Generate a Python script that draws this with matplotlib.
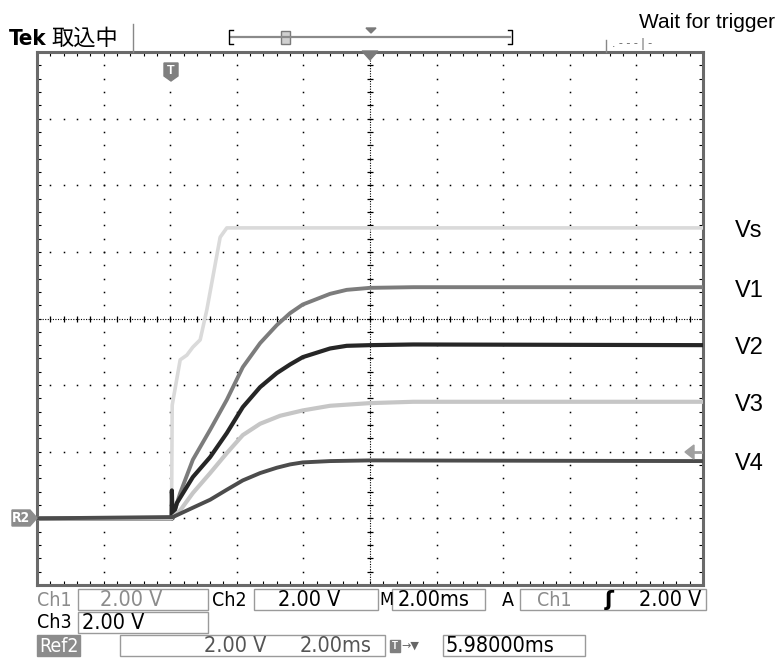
import numpy as np
import matplotlib.pyplot as plt
from matplotlib.patches import Rectangle, Polygon

plt.rcParams['font.family'] = ['Liberation Sans', 'DejaVu Sans']
NARROW = ['DejaVu Sans']
CJK = ['Noto Sans CJK JP', 'DejaVu Sans']

# screen: 10 div x 2.00 ms, 8 div x 2.00 V; ground (R2) sits 3 div below centre
GROUND = -6.0

# traces: time in ms from left edge, voltage in V above ground
t_vs = [0.0, 4.04, 4.06, 4.3, 4.5, 4.68, 4.9, 5.1, 5.28, 5.5, 5.7, 20.0]
v_vs = [0.0, 0.0, 3.4, 4.76, 4.9, 5.14, 5.36, 6.26, 7.24, 8.44, 8.72, 8.72]

t_v1 = [0.0, 4.06, 4.3, 4.68, 5.2, 5.7, 6.18, 6.7, 7.2, 7.6, 7.98, 8.8, 9.3, 10.0, 11.3, 20.0]
v_v1 = [0.0, 0.0, 0.76, 1.76, 2.66, 3.56, 4.54, 5.26, 5.8, 6.16, 6.42, 6.74, 6.86, 6.92, 6.94, 6.94]

t_v2 = [0.0, 4.04, 4.05, 4.07, 4.2, 4.68, 5.2, 5.7, 6.18, 6.7, 7.2, 7.6, 7.98, 8.8, 9.3, 10.0, 11.3, 20.0]
v_v2 = [0.0, 0.0, 0.84, 0.0, 0.46, 1.24, 1.84, 2.56, 3.34, 3.94, 4.36, 4.62, 4.84, 5.1, 5.18, 5.2, 5.22, 5.2]

t_v3 = [0.0, 4.04, 4.3, 4.68, 5.2, 5.7, 6.18, 6.7, 7.3, 7.98, 8.8, 10.0, 11.3, 20.0]
v_v3 = [0.0, 0.0, 0.24, 0.76, 1.36, 1.96, 2.5, 2.84, 3.08, 3.24, 3.38, 3.46, 3.5, 3.5]

t_v4 = [0.0, 4.08, 4.68, 5.2, 5.7, 6.18, 6.7, 7.2, 7.6, 7.98, 8.8, 10.0, 20.0]
v_v4 = [0.0, 0.04, 0.32, 0.56, 0.86, 1.14, 1.36, 1.52, 1.62, 1.68, 1.72, 1.74, 1.72]

labels = ["Vs", "V1", "V2", "V3", "V4"]

fig = plt.figure(figsize=(7.78, 6.62), dpi=100)
fig.patch.set_facecolor("white")
W, H = 778, 662
ax = fig.add_axes([37 / W, 77 / H, 666 / W, 533 / H])
ax.set_xlim(0, 20)
ax.set_ylim(-8, 8)

# --- graticule ---
ys = np.arange(-8, 8.01, 0.4)
xs = np.arange(0, 20.01, 0.4)
for gx in range(2, 20, 2):
    if gx == 10:
        continue
    ax.plot(np.full(ys.size, gx), ys, ls="none", marker="s", ms=1.1, color="black", mew=0)
for gy in range(-6, 8, 2):
    if gy == 0:
        continue
    ax.plot(xs, np.full(xs.size, gy), ls="none", marker="s", ms=1.1, color="black", mew=0)
ax.axvline(10, color="black", lw=0.8, ls=(0, (1, 1.3)))
ax.axhline(0, color="black", lw=0.8, ls=(0, (1, 1.3)))
ax.plot(np.full(ys.size, 10), ys, ls="none", marker="_", ms=5, mew=0.9, color="black")
ax.plot(xs, np.zeros(xs.size), ls="none", marker="|", ms=5, mew=0.9, color="black")

ax.set_xticks(np.arange(0, 20.01, 2))
ax.set_yticks(np.arange(-8, 8.01, 2))
ax.set_xticks(xs, minor=True)
ax.set_yticks(ys, minor=True)
ax.tick_params(which="both", direction="in", length=3, width=0.8, color="black",
               top=True, right=True, labelbottom=False, labelleft=False)
for s in ax.spines.values():
    s.set_color("#6a6a6a")
    s.set_linewidth(2.2)

# --- traces ---
traces = [
    (t_vs, v_vs, "#dadada", 2.6),
    (t_v1, v_v1, "#7c7c7c", 2.8),
    (t_v2, v_v2, "#262626", 3.0),
    (t_v3, v_v3, "#c6c6c6", 3.0),
    (t_v4, v_v4, "#4c4c4c", 2.8),
]
for (t, v, c, lw), lab in zip(traces, labels):
    vv = np.array(v) + GROUND
    ax.plot(t, vv, color=c, lw=lw, solid_joinstyle="round", zorder=3)
    ax.text(1.048, vv[-1] - 0.1, lab, transform=ax.get_yaxis_transform(),
            fontsize=17, va="center", ha="left", clip_on=False)

# --- overlay in pixel coords for the scope decorations ---
ov = fig.add_axes([0, 0, 1, 1], zorder=5)
ov.set_xlim(0, W)
ov.set_ylim(H, 0)
ov.axis("off")
ov.patch.set_alpha(0)

# position triangle, trigger T, R2 marker, trigger level arrow
ov.add_patch(Polygon([(362, 51), (378, 51), (370, 60)], color="#7a7a7a"))
ov.add_patch(Polygon([(164, 63), (178, 63), (178, 76), (171, 81), (164, 76)], color="#7f7f7f"))
ov.text(171, 71, "T", color="white", fontsize=9, fontweight="bold", ha="center", va="center")
ov.add_patch(Polygon([(12, 510), (30, 510), (37, 518), (30, 526), (12, 526)], color="#8c8c8c"))
ov.text(21, 518.5, "R2", color="white", fontsize=10, fontweight="bold", ha="center", va="center",
        family=NARROW, fontstretch="condensed")
ov.add_patch(Polygon([(685, 452), (694, 445), (694, 459)], color="#a0a0a0"))
ov.plot([693, 701], [452, 452], color="#a0a0a0", lw=2)

# header
ov.text(9, 45, "Tek", fontsize=16, fontweight="bold", family=NARROW, fontstretch="condensed",
        va="baseline")
ov.text(51, 45, "取込中", fontsize=16, family=CJK, va="baseline")
ov.plot([133, 133], [24, 52], color="#888888", lw=1)
ov.plot([231, 510], [37, 37], color="#8a8a8a", lw=1.6)
ov.plot([233, 229, 229, 233], [30, 30, 44, 44], color="black", lw=1)
ov.plot([508, 512, 512, 508], [30, 30, 44, 44], color="black", lw=1)
ov.add_patch(Rectangle((281, 31), 9, 13, facecolor="#d0d0d0", edgecolor="#7a7a7a", lw=1))
ov.add_patch(Polygon([(366, 28), (376, 28), (371, 33)], color="#7a7a7a"))
ov.plot([606, 606], [40, 52], color="#888888", lw=1)
ov.text(612, 47, ". - - - | -", fontsize=9, color="#666666", va="baseline")
ov.text(639, 28, "Wait for trigger", fontsize=15, va="baseline")

# footer readouts
FS = 15.5
GRAY = "#8c8c8c"
ft = dict(fontsize=FS, family=NARROW, fontstretch="condensed", va="center")
lt = dict(ft, fontsize=14)
boxes = [(78, 589, 208, 610), (254, 589, 378, 610), (392, 589, 485, 610), (520, 589, 706, 610),
         (78, 612, 208, 633), (120, 635, 385, 656), (443, 635, 585, 656)]
for x0, y0, x1, y1 in boxes:
    ov.add_patch(Rectangle((x0, y0), x1 - x0, y1 - y0, fill=False, edgecolor="#9a9a9a", lw=1))
ov.add_patch(Rectangle((37, 635), 43, 21, color="#8c8c8c"))

row1, row2, row3 = 600, 623, 646
ov.text(37, row1, "Ch1", color=GRAY, **lt)
ov.text(100, row1, "2.00 V", color=GRAY, **ft)
ov.text(212, row1, "Ch2", **lt)
ov.text(278, row1, "2.00 V", **ft)
ov.text(379, row1, "M", **dict(lt, fontsize=13))
ov.text(398, row1, "2.00ms", **ft)
ov.text(502, row1, "A", **lt)
ov.text(537, row1, "Ch1", color=GRAY, **lt)
ov.text(605, row1, "\u0283", fontsize=FS, fontweight="bold", family=["DejaVu Sans"], va="center")
ov.text(639, row1, "2.00 V", **ft)
ov.text(37, row2, "Ch3", **lt)
ov.text(82, row2, "2.00 V", **ft)
ov.text(39, row3, "Ref2", color="white", **lt)
ov.text(204, row3, "2.00 V", color="#555555", **ft)
ov.text(300, row3, "2.00ms", color="#555555", **ft)
ov.add_patch(Rectangle((390, 640), 10, 12, color="#7f7f7f"))
ov.text(395, 646, "T", color="white", fontsize=7, fontweight="bold", ha="center", va="center")
ov.text(401, row3, "\u2192\u25bc", fontsize=8, color="#666666", family=["DejaVu Sans"], va="center")
ov.text(446, row3, "5.98000ms", **ft)

fig.savefig("out.png", dpi=100)
